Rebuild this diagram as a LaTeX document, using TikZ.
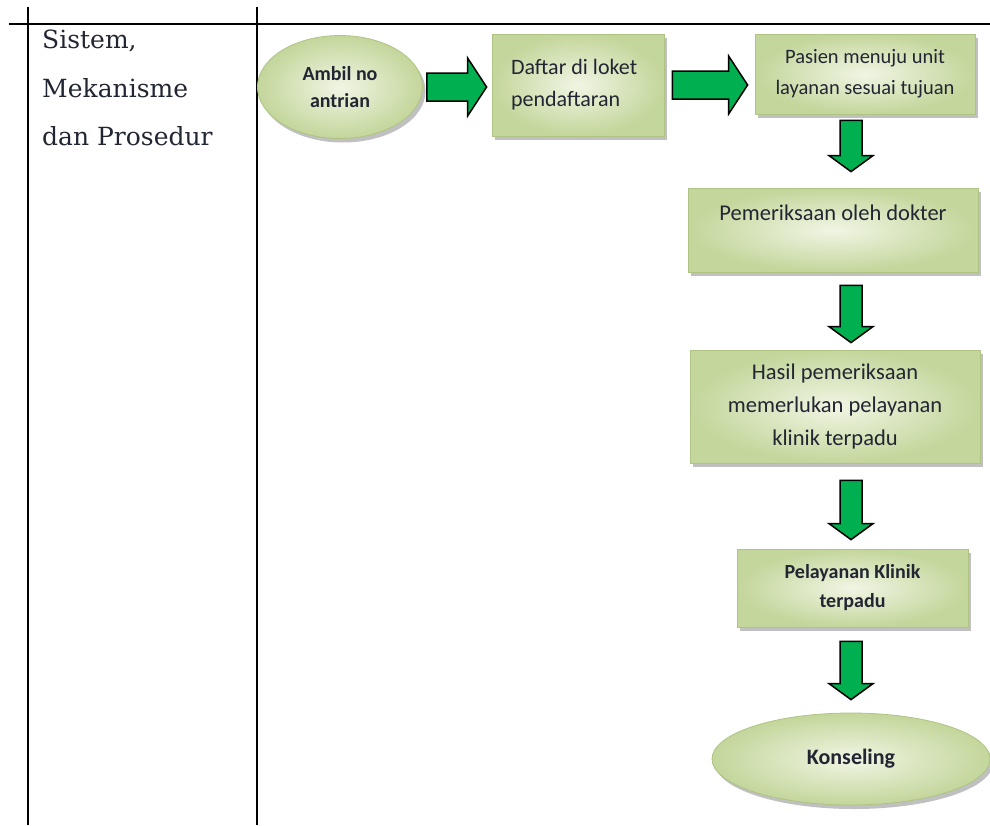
\documentclass[tikz,border=0pt]{standalone}
\usepackage{fontspec}
\newfontfamily\calibri{Carlito}
\newfontfamily\bookman{DejaVu Serif}
\usetikzlibrary{shapes.geometric,shadows,calc}
\definecolor{boxdark}{HTML}{C3D69B}
\definecolor{boxlight}{HTML}{F1F5E4}
\definecolor{boxline}{HTML}{AFC484}
\definecolor{arrowgreen}{HTML}{00B050}
\definecolor{ink}{HTML}{222632}
\newcommand{\flowright}[4]{\draw[flowarrow] let \p1=(#1.east), \p2=(#2.west) in (\x1+#3,\y1+14pt) -- (\x2-#4-19pt,\y1+14pt) -- (\x2-#4-19pt,\y1+29pt) -- (\x2-#4,\y1) -- (\x2-#4-19pt,\y1-29pt) -- (\x2-#4-19pt,\y1-14pt) -- (\x1+#3,\y1-14pt) -- cycle;}
\newcommand{\flowdown}[4]{\draw[flowarrow] let \p1=(#1.south), \p2=(#2.north), \p3=(col) in (\x3-11pt,\y1-#3) -- (\x3-11pt,\y2+#4+16pt) -- (\x3-22pt,\y2+#4+16pt) -- (\x3,\y2+#4) -- (\x3+22pt,\y2+#4+16pt) -- (\x3+11pt,\y2+#4+16pt) -- (\x3+11pt,\y1-#3) -- cycle;}

\begin{document}
\begin{tikzpicture}[x=1pt,y=-1pt,
    grid/.style={line width=2pt},
    box/.style={draw=boxline,line width=0.8pt,inner color=boxlight,outer color=boxdark,drop shadow={shadow xshift=3pt,shadow yshift=-4pt,fill=black!45,opacity=.55},text=ink,align=center,inner sep=0pt},
    oval/.style={box,ellipse},
    flowarrow/.style={draw=black,line width=1.5pt,fill=arrowgreen,line join=miter}]
    \useasboundingbox (0,0) rectangle (990,825);
    \draw[grid] (9,24) -- (990,24); \draw[grid] (28,7) -- (28,825); \draw[grid] (257,7) -- (257,825);
    \node[anchor=north west,inner sep=0pt,align=left,text=ink,font={\bookman\fontsize{25}{48.5}\selectfont}] (aspek) at (42,30) {Sistem,\\Mekanisme\\dan Prosedur};
    \coordinate (col) at (851,0);

    \node[oval,minimum width=165,minimum height=103,font={\calibri\bfseries\fontsize{20}{27}\selectfont}] (ambil) at (340,87) {Ambil no\\antrian};
    \node[box,minimum width=172,minimum height=102,font={\calibri\fontsize{22}{32}\selectfont}] (daftar) at (578,85) {\raisebox{18pt}{\parbox{134pt}{Daftar di loket\\pendaftaran}}};
    \node[box,minimum width=220,minimum height=80,font={\calibri\fontsize{20.5}{31}\selectfont}] (pasien) at (865,74) {Pasien menuju unit\\layanan sesuai tujuan};
    \node[box,minimum width=290,minimum height=84,font={\calibri\fontsize{22.5}{32}\selectfont}] (periksa) at (833,230) {\raisebox{34pt}{Pemeriksaan oleh dokter}};
    \node[box,minimum width=290,minimum height=113,font={\calibri\fontsize{22.5}{33}\selectfont}] (hasil) at (835,406.5) {Hasil pemeriksaan\\memerlukan pelayanan\\klinik terpadu};
    \node[box,minimum width=231,minimum height=78,font={\calibri\bfseries\fontsize{20}{29}\selectfont}] (klinik) at (852.5,588) {Pelayanan Klinik\\terpadu};
    \node[oval,minimum width=278,minimum height=92,font={\calibri\bfseries\fontsize{22}{28}\selectfont}] (konseling) at (851,759) {Konseling};

    \flowright{ambil}{daftar}{4pt}{5pt} \flowright{daftar}{pasien}{8pt}{7pt}
    \flowdown{pasien}{periksa}{6pt}{16pt} \flowdown{periksa}{hasil}{13pt}{7pt}
    \flowdown{hasil}{klinik}{17pt}{9pt} \flowdown{klinik}{konseling}{14pt}{13pt}
\end{tikzpicture}
\end{document}
